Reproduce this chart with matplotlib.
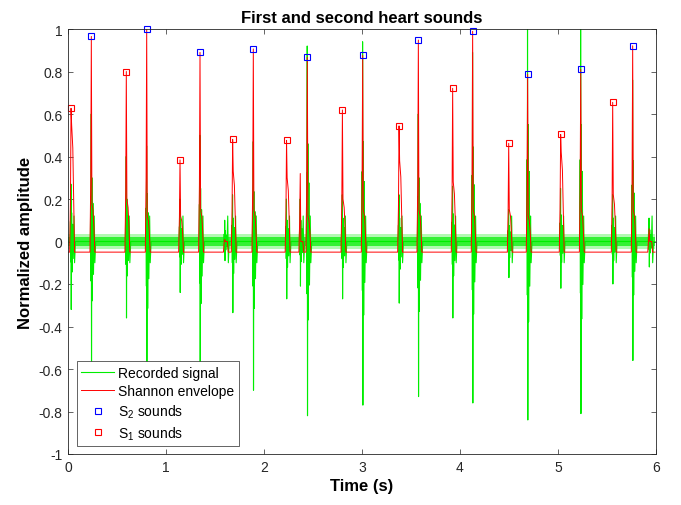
import matplotlib
matplotlib.use('Agg')
import matplotlib.pyplot as plt
import numpy as np

plt.rcParams['font.family'] = ['Liberation Sans', 'DejaVu Sans']
plt.rcParams['mathtext.fontset'] = 'custom'
plt.rcParams['mathtext.rm'] = 'Liberation Sans'
plt.rcParams['mathtext.default'] = 'regular'

# S1 / S2 locations (s) and envelope peak values
s1_times = [0.031, 0.595, 1.143, 1.680, 2.230, 2.800, 3.378, 3.925, 4.497, 5.027, 5.558]
s1_peaks = [0.627, 0.800, 0.384, 0.481, 0.476, 0.619, 0.544, 0.721, 0.462, 0.504, 0.655]
s2_times = [0.238, 0.803, 1.347, 1.891, 2.442, 3.007, 3.575, 4.129, 4.690, 5.232, 5.762]
s2_peaks = [0.965, 1.000, 0.890, 0.906, 0.867, 0.876, 0.948, 0.989, 0.787, 0.810, 0.921]

# envelope shoulder right after each sound
s1_env_shoulder = [0.55, 0.20, 0.12, 0.33, 0.30, 0.20, 0.38, 0.28, 0.15, 0.42, 0.22]
s2_env_shoulder = [0.18, 0.12, 0.15, 0.15, 0.12, 0.15, 0.15, 0.15, 0.12, 0.15, 0.15]

# recorded signal extremes around each sound
s1_sig_max = [0.27, 0.40, 0.20, 0.22, 0.20, 0.22, 0.22, 0.26, 0.15, 0.25, 0.22]
s1_sig_min = [-0.32, -0.36, -0.24, -0.335, -0.27, -0.27, -0.29, -0.36, -0.17, -0.22, -0.20]
s2_sig_max = [0.60, 0.45, 0.50, 0.47, 0.92, 0.94, 0.60, 0.89, 1.10, 1.10, 0.76]
s2_sig_min = [-0.62, -0.70, -0.65, -0.70, -0.82, -0.77, -0.73, -0.76, -0.84, -0.81, -0.56]

# small unlabelled bursts
extra_times = [1.600, 2.370, 5.930]
extra_env = [0.01, 0.32, 0.06]
extra_sig_max = [0.10, 0.20, 0.11]
extra_sig_min = [-0.09, -0.21, -0.12]

env_base = -0.05
noise_core = 0.022
noise_fuzz = 0.036
t_end = 5.99

# ---- build traces -------------------------------------------------------
ev_t = s1_times + s2_times + extra_times
ev_peak = s1_peaks + s2_peaks + extra_env
ev_sh = s1_env_shoulder + s2_env_shoulder + [0.0] * len(extra_times)
ev_max = s1_sig_max + s2_sig_max + extra_sig_max
ev_min = s1_sig_min + s2_sig_min + extra_sig_min
order = np.argsort(ev_t)

sig_t, sig_y = [0.0], [0.0]
env_t, env_y = [0.0], [env_base]
for i in order:
    t, pk, sh, mx, mn = ev_t[i], ev_peak[i], ev_sh[i], ev_max[i], ev_min[i]
    sig_t += [t - 0.010, t - 0.006, t - 0.003, t - 0.001, t + 0.002, t + 0.006,
              t + 0.010, t + 0.016, t + 0.022, t + 0.030, t + 0.036, t + 0.045]
    sig_y += [0.0, 0.35 * mx, 0.3 * mn, mx, mn, 0.5 * mx,
              0.45 * mn, 0.3 * mx, 0.25 * mn, 0.12, -0.10, 0.0]
    sh = max(sh, env_base)
    env_t += [max(t - 0.014, 0.0), t - 0.006, t, t + 0.006, t + 0.018, t + 0.026, t + 0.036]
    env_y += [env_base, 0.3 * pk, pk, sh, 0.8 * sh, max(0.4 * sh, env_base), env_base]
sig_t.append(t_end)
sig_y.append(0.0)
env_t.append(t_end)
env_y.append(env_base)

# ---- plot ---------------------------------------------------------------
fig = plt.figure(figsize=(6.81, 5.06), dpi=100)
ax = fig.add_axes([68 / 681, 1 - 455 / 506, 588 / 681, 425 / 506])

green = '#00ee00'
ax.fill_between([0, t_end], [-noise_fuzz] * 2, [noise_fuzz] * 2, color=green, alpha=0.3, lw=0)
ax.fill_between([0, t_end], [-noise_core] * 2, [noise_core] * 2, color=green, alpha=0.7, lw=0)
ax.plot(sig_t, sig_y, color=green, lw=0.8, label='Recorded signal')
ax.plot(env_t, env_y, color='#ff0000', lw=0.7, label='Shannon envelope')
ax.plot(s2_times, s2_peaks, 's', color='#0000ff', ms=4.5, mfc='none', mec='#0000ff',
        mew=0.8, label='S$_2$ sounds', clip_on=False)
ax.plot(s1_times, s1_peaks, 's', color='#ff0000', ms=4.5, mfc='none', mec='#ff0000',
        mew=0.8, label='S$_1$ sounds', clip_on=False)

ax.set_xlim(0, 6)
ax.set_ylim(-1, 1)
ax.set_xticks(range(7))
yt = np.round(np.arange(-1, 1.01, 0.2), 1)
ax.set_yticks(yt)
ax.set_yticklabels([('%g' % v) if abs(v) > 1e-9 else '0' for v in yt])
ax.tick_params(direction='in', top=True, right=True, length=3.6, width=0.5,
               labelsize=10, color='#262626', labelcolor='#262626', pad=4)
for s in ax.spines.values():
    s.set_linewidth(0.6)
    s.set_color('#262626')

ax.set_title('First and second heart sounds', fontsize=12, fontweight='bold', pad=5)
ax.set_xlabel('Time (s)', fontsize=12, fontweight='bold', labelpad=3)
ax.set_ylabel('Normalized amplitude', fontsize=12, fontweight='bold', labelpad=4)

leg = ax.legend(loc='lower left', bbox_to_anchor=(0.015, 0.019), borderaxespad=0,
                fontsize=10, fancybox=False, framealpha=1, edgecolor='#262626',
                handlelength=2.4, handletextpad=0.3, labelspacing=0.32, borderpad=0.3)
leg.get_frame().set_linewidth(0.5)

fig.savefig('out.png', dpi=100)
